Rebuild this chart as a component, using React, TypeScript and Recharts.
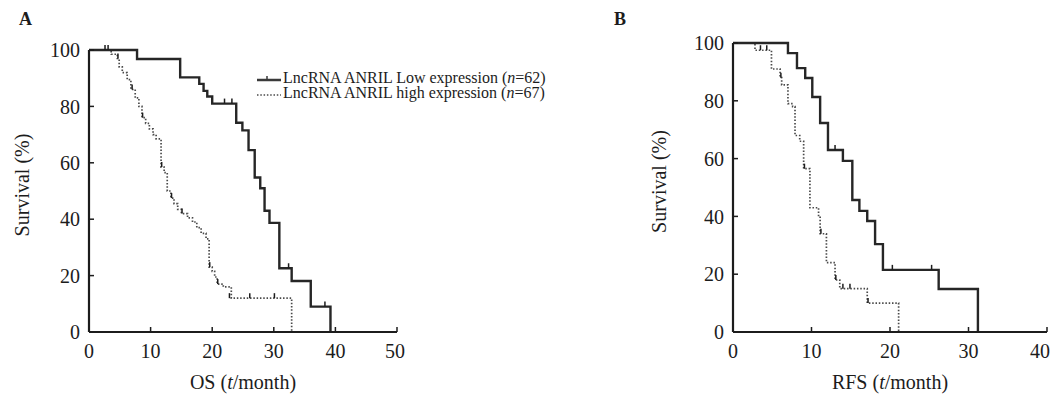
import { ComposedChart, Line, Scatter, XAxis, YAxis } from 'recharts'

// OS panel (A)
const osTicks = [0, 10, 20, 30, 40, 50]
const osLowTime = [0, 7.8, 14.8, 17.9, 18.6, 19.2, 20.0, 23.9, 24.9, 25.9, 26.9, 27.8, 28.5, 29.3, 30.9, 32.9, 36.0, 39.2]
const osLowSurv = [100, 96.8, 90.3, 88, 85.5, 83.5, 81, 74.2, 71.5, 64.5, 54.8, 51, 43, 38.7, 22.6, 18.1, 9, 0]
const osLowCensorTime = [22.0, 23.2, 32.4, 38.3]
const osLowCensorSurv = [81, 81, 22.6, 9]
const osHighTime = [0, 3.6, 4.6, 4.9, 5.4, 6.2, 6.8, 7.5, 8.1, 8.6, 9.2, 9.8, 10.4, 10.9, 11.7, 12.2, 12.7, 13.3, 13.8, 14.4, 15.0, 16.0, 16.8, 17.5, 18.2, 19.0, 19.5, 20.0, 20.4, 20.8, 21.8, 23.1, 32.9]
const osHighSurv = [100, 98.5, 97, 94, 92, 89.5, 86, 83, 80, 76, 74, 72, 70, 68.5, 58.5, 56.5, 50, 47.5, 45.5, 43.5, 42, 40.5, 39, 37, 35, 33, 23, 21.5, 19.5, 17, 16, 12, 0]
const osHighCensorTime = [2.6, 3.1, 4.7, 7.0, 8.7, 11.8, 13.4, 15.1, 19.6, 20.9, 22.8, 26.1, 30.1]
const osHighCensorSurv = [100, 100, 97, 86, 76, 58.5, 47.5, 42, 23, 17, 12, 12, 12]

// RFS panel (B)
const rfsTicks = [0, 10, 20, 30, 40]
const rfsLowTime = [0, 7.0, 8.15, 9.2, 10.1, 11.1, 12.1, 14.0, 15.2, 16.1, 17.1, 18.1, 19.1, 26.2, 31.2]
const rfsLowSurv = [100, 96.5, 91.3, 87.9, 81.3, 72.3, 63, 59.2, 45.7, 41.9, 38.4, 30.4, 21.5, 14.9, 0]
const rfsLowCensorTime = [13.0, 20.3, 25.3]
const rfsLowCensorSurv = [63, 21.5, 21.5]
const rfsHighTime = [0, 2.8, 4.9, 6.0, 6.2, 7.0, 7.6, 7.9, 8.5, 9.0, 9.8, 10.9, 11.1, 11.9, 13.0, 13.6, 17.1, 21.1]
const rfsHighSurv = [100, 97.5, 91, 88, 85.5, 79, 78, 68, 66, 56.5, 43, 40, 34, 24, 18, 15, 10, 0]
const rfsHighCensorTime = [3.5, 4.3, 6.1, 9.1, 11.2, 13.1, 14.0, 14.9, 17.2]
const rfsHighCensorSurv = [97.5, 97.5, 88, 56.5, 34, 18, 15, 15, 10]

const survivalTicks = [0, 20, 40, 60, 80, 100]

const FONT = '"Liberation Serif", "Times New Roman", serif'
const INK = '#1c1c1c'

const toPoints = (t: number[], s: number[]) => t.map((v, i) => ({ t: v, s: s[i] }))

const censorTick = (props: any) => (
  <line x1={props.cx} x2={props.cx} y1={props.cy - 5} y2={props.cy} stroke={INK} strokeWidth={1.5} />
)

interface PanelProps {
  width: number
  top: number
  right: number
  yAxisWidth: number
  xMax: number
  xTicks: number[]
  xTitle: string
  yTitleX: number
  lastTickShift: number
  low: { t: number; s: number }[]
  high: { t: number; s: number }[]
  lowCensor: { t: number; s: number }[]
  highCensor: { t: number; s: number }[]
}

function SurvivalPanel(p: PanelProps) {
  const renderXTick = (props: any) => {
    const { x, y, payload } = props
    const shift = payload.value === p.xMax ? p.lastTickShift : 0
    return (
      <text x={x + shift} y={y} dy="0.71em" textAnchor="middle" fontSize={20} fontFamily={FONT} fill={INK}>
        {payload.value}
      </text>
    )
  }

  return (
    <ComposedChart
      width={p.width}
      height={398}
      margin={{ top: p.top, right: p.right, left: 0, bottom: 0 }}
      style={{ overflow: 'visible' }}
    >
      <XAxis
        dataKey="t"
        type="number"
        domain={[0, p.xMax]}
        ticks={p.xTicks}
        interval={0}
        height={66}
        tickSize={-5}
        tickMargin={17}
        axisLine={{ stroke: INK, strokeWidth: 2.2 }}
        tickLine={{ stroke: INK, strokeWidth: 1.5 }}
        tick={renderXTick}
        label={{
          content: ({ viewBox }: any) => (
            <text
              x={viewBox.x + viewBox.width / 2}
              y={viewBox.y + viewBox.height - 9}
              textAnchor="middle"
              fontSize={20}
              fontFamily={FONT}
              fill={INK}
            >
              {p.xTitle} (<tspan fontStyle="italic">t</tspan>/month)
            </text>
          ),
        }}
      />
      <YAxis
        type="number"
        domain={[0, 100]}
        ticks={survivalTicks}
        interval={0}
        width={p.yAxisWidth}
        tickSize={-5}
        tickMargin={14}
        axisLine={{ stroke: INK, strokeWidth: 2.2 }}
        tickLine={{ stroke: INK, strokeWidth: 1.5 }}
        tick={{ fontSize: 20, fill: INK, fontFamily: FONT }}
        label={{
          content: ({ viewBox }: any) => {
            const cx = p.yTitleX
            const cy = viewBox.y + viewBox.height / 2 - 6
            return (
              <text
                x={cx}
                y={cy}
                transform={`rotate(-90 ${cx} ${cy})`}
                textAnchor="middle"
                dominantBaseline="central"
                fontSize={20}
                fontFamily={FONT}
                fill={INK}
              >
                Survival (%)
              </text>
            )
          },
        }}
      />
      <Line
        data={p.high}
        dataKey="s"
        type="stepAfter"
        stroke="#4a4a4a"
        strokeWidth={1.7}
        strokeDasharray="1.5 1.8"
        dot={false}
        isAnimationActive={false}
      />
      <Line
        data={p.low}
        dataKey="s"
        type="stepAfter"
        stroke="#262626"
        strokeWidth={2.4}
        dot={false}
        isAnimationActive={false}
      />
      <Scatter data={p.lowCensor} dataKey="s" shape={censorTick} isAnimationActive={false} />
      <Scatter data={p.highCensor} dataKey="s" shape={censorTick} isAnimationActive={false} />
    </ComposedChart>
  )
}

export default function App() {
  return (
    <div
      style={{
        position: 'absolute',
        left: 0,
        top: 0,
        width: 1052,
        height: 398,
        background: '#fff',
        fontFamily: FONT,
        color: INK,
        overflow: 'hidden',
      }}
    >
      <div style={{ position: 'absolute', left: 0, top: 0 }}>
        <SurvivalPanel
          width={420}
          top={50}
          right={23}
          yAxisWidth={89}
          xMax={50}
          xTicks={osTicks}
          xTitle="OS"
          yTitleX={22}
          lastTickShift={-2}
          low={toPoints(osLowTime, osLowSurv)}
          high={toPoints(osHighTime, osHighSurv)}
          lowCensor={toPoints(osLowCensorTime, osLowCensorSurv)}
          highCensor={toPoints(osHighCensorTime, osHighCensorSurv)}
        />
      </div>
      <div style={{ position: 'absolute', left: 600, top: 0 }}>
        <SurvivalPanel
          width={452}
          top={43}
          right={5}
          yAxisWidth={133}
          xMax={40}
          xTicks={rfsTicks}
          xTitle="RFS"
          yTitleX={59}
          lastTickShift={-7}
          low={toPoints(rfsLowTime, rfsLowSurv)}
          high={toPoints(rfsHighTime, rfsHighSurv)}
          lowCensor={toPoints(rfsLowCensorTime, rfsLowCensorSurv)}
          highCensor={toPoints(rfsHighCensorTime, rfsHighCensorSurv)}
        />
      </div>
      <div style={{ position: 'absolute', left: 19, top: 10, fontSize: 18, fontWeight: 700, lineHeight: '18px' }}>A</div>
      <div style={{ position: 'absolute', left: 614, top: 10, fontSize: 18, fontWeight: 700, lineHeight: '18px' }}>B</div>
      <div style={{ position: 'absolute', left: 257, top: 70, fontSize: 16, lineHeight: '15px', whiteSpace: 'nowrap' }}>
        <div style={{ display: 'flex', alignItems: 'center', height: 15 }}>
          <svg width={25} height={10} style={{ marginRight: 1 }}>
            <line x1={0} x2={24} y1={7} y2={7} stroke="#3a3a3a" strokeWidth={2.5} />
            <line x1={10} x2={10} y1={3} y2={7} stroke="#3a3a3a" strokeWidth={1.5} />
          </svg>
          <span>
            LncRNA ANRIL Low expression (<i>n</i>=62)
          </span>
        </div>
        <div style={{ display: 'flex', alignItems: 'center', height: 15 }}>
          <svg width={25} height={10} style={{ marginRight: 1 }}>
            <line x1={0} x2={24} y1={7} y2={7} stroke="#4a4a4a" strokeWidth={1.4} strokeDasharray="1.5 1.8" />
          </svg>
          <span>
            LncRNA ANRIL high expression (<i>n</i>=67)
          </span>
        </div>
      </div>
    </div>
  )
}
